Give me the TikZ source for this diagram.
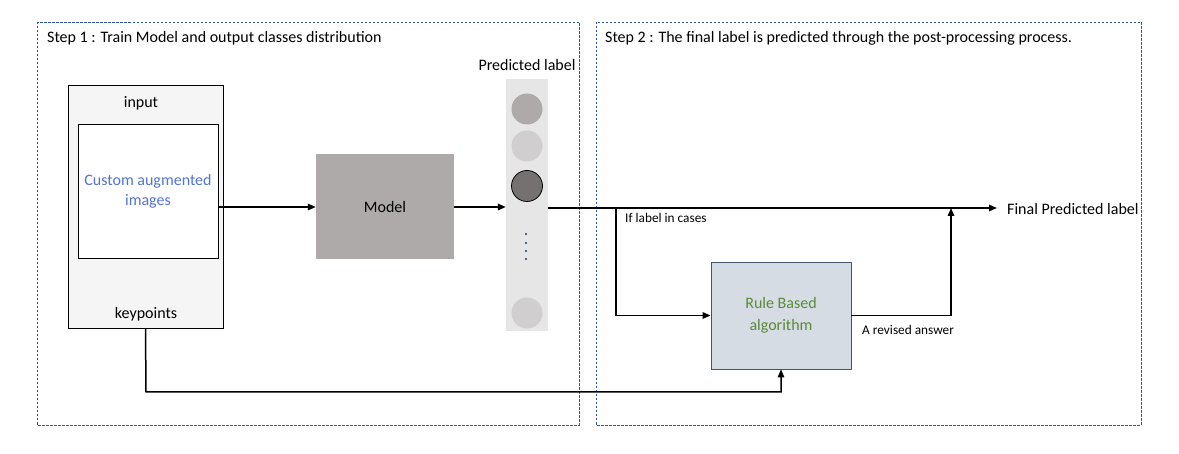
\documentclass[tikz,border=0pt]{standalone}
\usepackage{fontspec}
\setmainfont{Carlito}
\usetikzlibrary{arrows.meta}
\definecolor{dashblue}{HTML}{2F5597}
\definecolor{txtblue}{HTML}{5575CF}
\definecolor{txtgreen}{HTML}{5A8A35}
\definecolor{modelgray}{HTML}{AEAAAA}
\definecolor{colgray}{HTML}{E6E6E6}
\definecolor{lightc}{HTML}{D0CECE}
\definecolor{darkc}{HTML}{767171}
\definecolor{rulefill}{HTML}{D6DCE4}
\definecolor{ruleedge}{HTML}{44546A}
\definecolor{inputfill}{HTML}{F5F5F5}
\definecolor{dotblue}{HTML}{203864}
\begin{document}
\begin{tikzpicture}[x=1pt,y=-1pt,
  big/.style={font=\fontsize{16}{19}\selectfont},
  small/.style={font=\fontsize{13.3}{16}\selectfont},
  region/.style={draw=dashblue,line width=0.8pt,dash pattern=on 2.5pt off 1.5pt},
  arr/.style={line width=1.5pt,-{Triangle[length=8pt,width=6.5pt]}},
  bubble/.style={circle,minimum size=31pt,inner sep=0pt},
  dotn/.style={circle,fill=dotblue,minimum size=2.4pt,inner sep=0pt}]
\useasboundingbox (0,0) rectangle (1179,454);
\fill[white] (0,0) rectangle (1179,454);
% regions
\draw[region] (37,22) rectangle (579,425);
\draw[region] (596,22) rectangle (1141,425);
\node[big,anchor=west,inner sep=0pt] (s1) at (47,38) {Step 1 : Train Model and output classes distribution};
\node[big,anchor=west,inner sep=0pt] (s2) at (605,38) {Step 2 : The final label is predicted through the post-processing process.};
% input
\node[draw=black,line width=0.8pt,fill=inputfill,minimum width=155pt,minimum height=243pt,inner sep=0pt] (input) at (145.5,206.5) {};
\node[big] (inlab) at (141,103) {input};
\node[draw=black,line width=0.8pt,fill=white,minimum width=140pt,minimum height=134pt,inner sep=0pt,align=center,big,text=txtblue] (inner) at (148,191) {Custom augmented\\[1pt]images};
\node[big] (kp) at (146,314) {keypoints};
% model
\node[fill=modelgray,minimum width=138pt,minimum height=105pt,inner sep=0pt,big] (model) at (385,207) {Model};
% column
\node[fill=colgray,minimum width=42pt,minimum height=252pt,inner sep=0pt] (col) at (527,205.5) {};
\node[big] (plab) at (527,65) {Predicted label};
\node[bubble,fill=modelgray] (c1) at (527,109) {};
\node[bubble,fill=lightc] (c2) at (527,146) {};
\node[bubble,fill=darkc,draw=black,line width=0.8pt] (c3) at (527,186) {};
\node[dotn] (d1) at (526,234) {};
\node[dotn] (d2) at (526,243) {};
\node[dotn] (d3) at (526,251) {};
\node[dotn] (d4) at (526,259) {};
\node[bubble,fill=lightc] (c4) at (527,313) {};
% rule
\node[draw=ruleedge,line width=0.8pt,fill=rulefill,minimum width=140pt,minimum height=107pt,inner sep=0pt,align=center,big,text=txtgreen] (rule) at (781,315.5) {Rule Based\\[3pt]algorithm};
% final label
\coordinate (ftip) at (997,208);
\node[big,anchor=west,inner sep=0pt] (final) at (1007,209) {Final Predicted label};
\coordinate (br) at (616,208);
\coordinate (up) at (951,208);
\coordinate (low) at (146,392);
% connectors
\draw[arr] (inner.east |- model.west) -- (model.west);
\draw[arr] (model.east) -- (col.west |- model.east);
\draw[arr] (col.east |- br) -- (ftip);
\draw[arr] (br) |- (rule.west);
\draw[arr] (rule.east) -| (up);
\draw[arr] (input.south) -- (low) -| (rule.south);
\node[small,anchor=west,inner sep=0pt] (iflab) at (625,218) {If label in cases};
\node[small,anchor=west,inner sep=0pt] (revlab) at (862,330) {A revised answer};
\end{tikzpicture}
\end{document}
